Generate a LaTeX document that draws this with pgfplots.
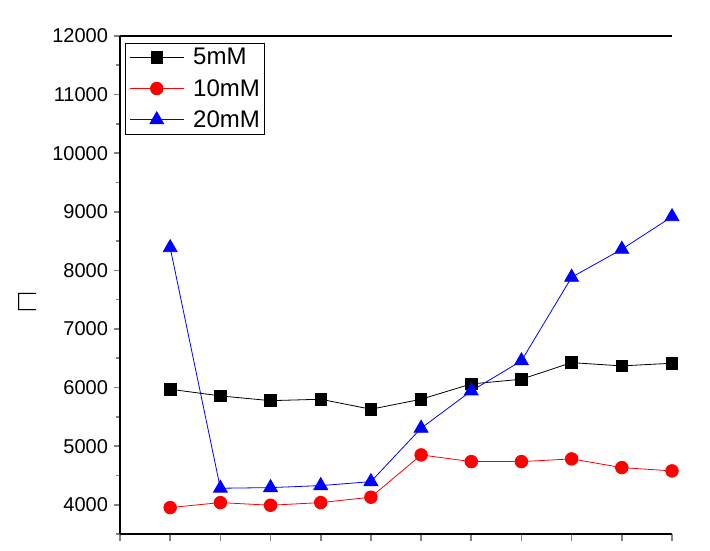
\documentclass[border=0pt]{standalone}
\usepackage{fontspec}
\setmainfont{Liberation Sans}
\usepackage{amssymb}
\usepackage{pgfplots}
\pgfplotsset{compat=1.18}
\begin{document}
\begin{tikzpicture}
\useasboundingbox (0,0) rectangle (710pt,550pt);
\begin{axis}[
  at={(120pt,16pt)}, anchor=south west,
  scale only axis, width=552pt, height=498pt,
  xmin=0, xmax=11, ymin=3500, ymax=12000,
  axis x line*=box, axis y line*=left,
  xtick={0,...,11}, xticklabels={},
  xtick pos=bottom,
  ytick={4000,5000,...,12000},
  minor ytick={3500,4500,...,11500},
  scaled ticks=false,
  tick align=outside,
  major tick length=6.5pt, minor tick length=4pt,
  x tick style={line width=1.6pt},
  y tick style={line width=1.6pt},
  axis line style={line width=2.3pt},
  /pgf/number format/assume math mode=true,
  /pgf/number format/1000 sep={},
  yticklabel style={font=\fontsize{20}{24}\selectfont, xshift=-2pt},
  ylabel={$\sqsubset$},
  ylabel style={rotate=-90, font=\fontsize{30}{32}\selectfont, at={(-0.168,0.466)}, anchor=center},
  legend style={at={(0.009,0.986)}, anchor=north west, draw=black, line width=0.8pt,
    font=\fontsize{24}{27}\selectfont, row sep=11pt, inner sep=4pt,
    nodes={inner sep=1pt},
    /tikz/every odd column/.append style={column sep=8pt}},
  legend cell align=left,
  legend image code/.code={\draw[mark repeat=2,mark phase=2,line width=0.8pt] plot coordinates {(0pt,0pt) (27pt,0pt) (54pt,0pt)};},
]
\addplot[black, line width=0.8pt, mark=square*, mark size=5.8pt, mark options={solid, fill=black}] coordinates {
(1,5971) (2,5857) (3,5776) (4,5800) (5,5630) (6,5800) (7,6061) (8,6142) (9,6425) (10,6369) (11,6415)};
\addlegendentry{5mM}
\addplot[red, line width=0.8pt, mark=*, mark size=6.3pt, mark options={solid, fill=red}] coordinates {
(1,3951) (2,4036) (3,3991) (4,4036) (5,4128) (6,4850) (7,4736) (8,4736) (9,4782) (10,4633) (11,4577)};
\addlegendentry{10mM}
\addplot[blue, line width=0.8pt, mark=triangle*, mark size=8pt, mark options={solid, fill=blue}] coordinates {
(1,8387) (2,4281) (3,4292) (4,4326) (5,4394) (6,5305) (7,5942) (8,6456) (9,7882) (10,8360) (11,8916)};
\addlegendentry{20mM}
\end{axis}
\end{tikzpicture}
\end{document}
